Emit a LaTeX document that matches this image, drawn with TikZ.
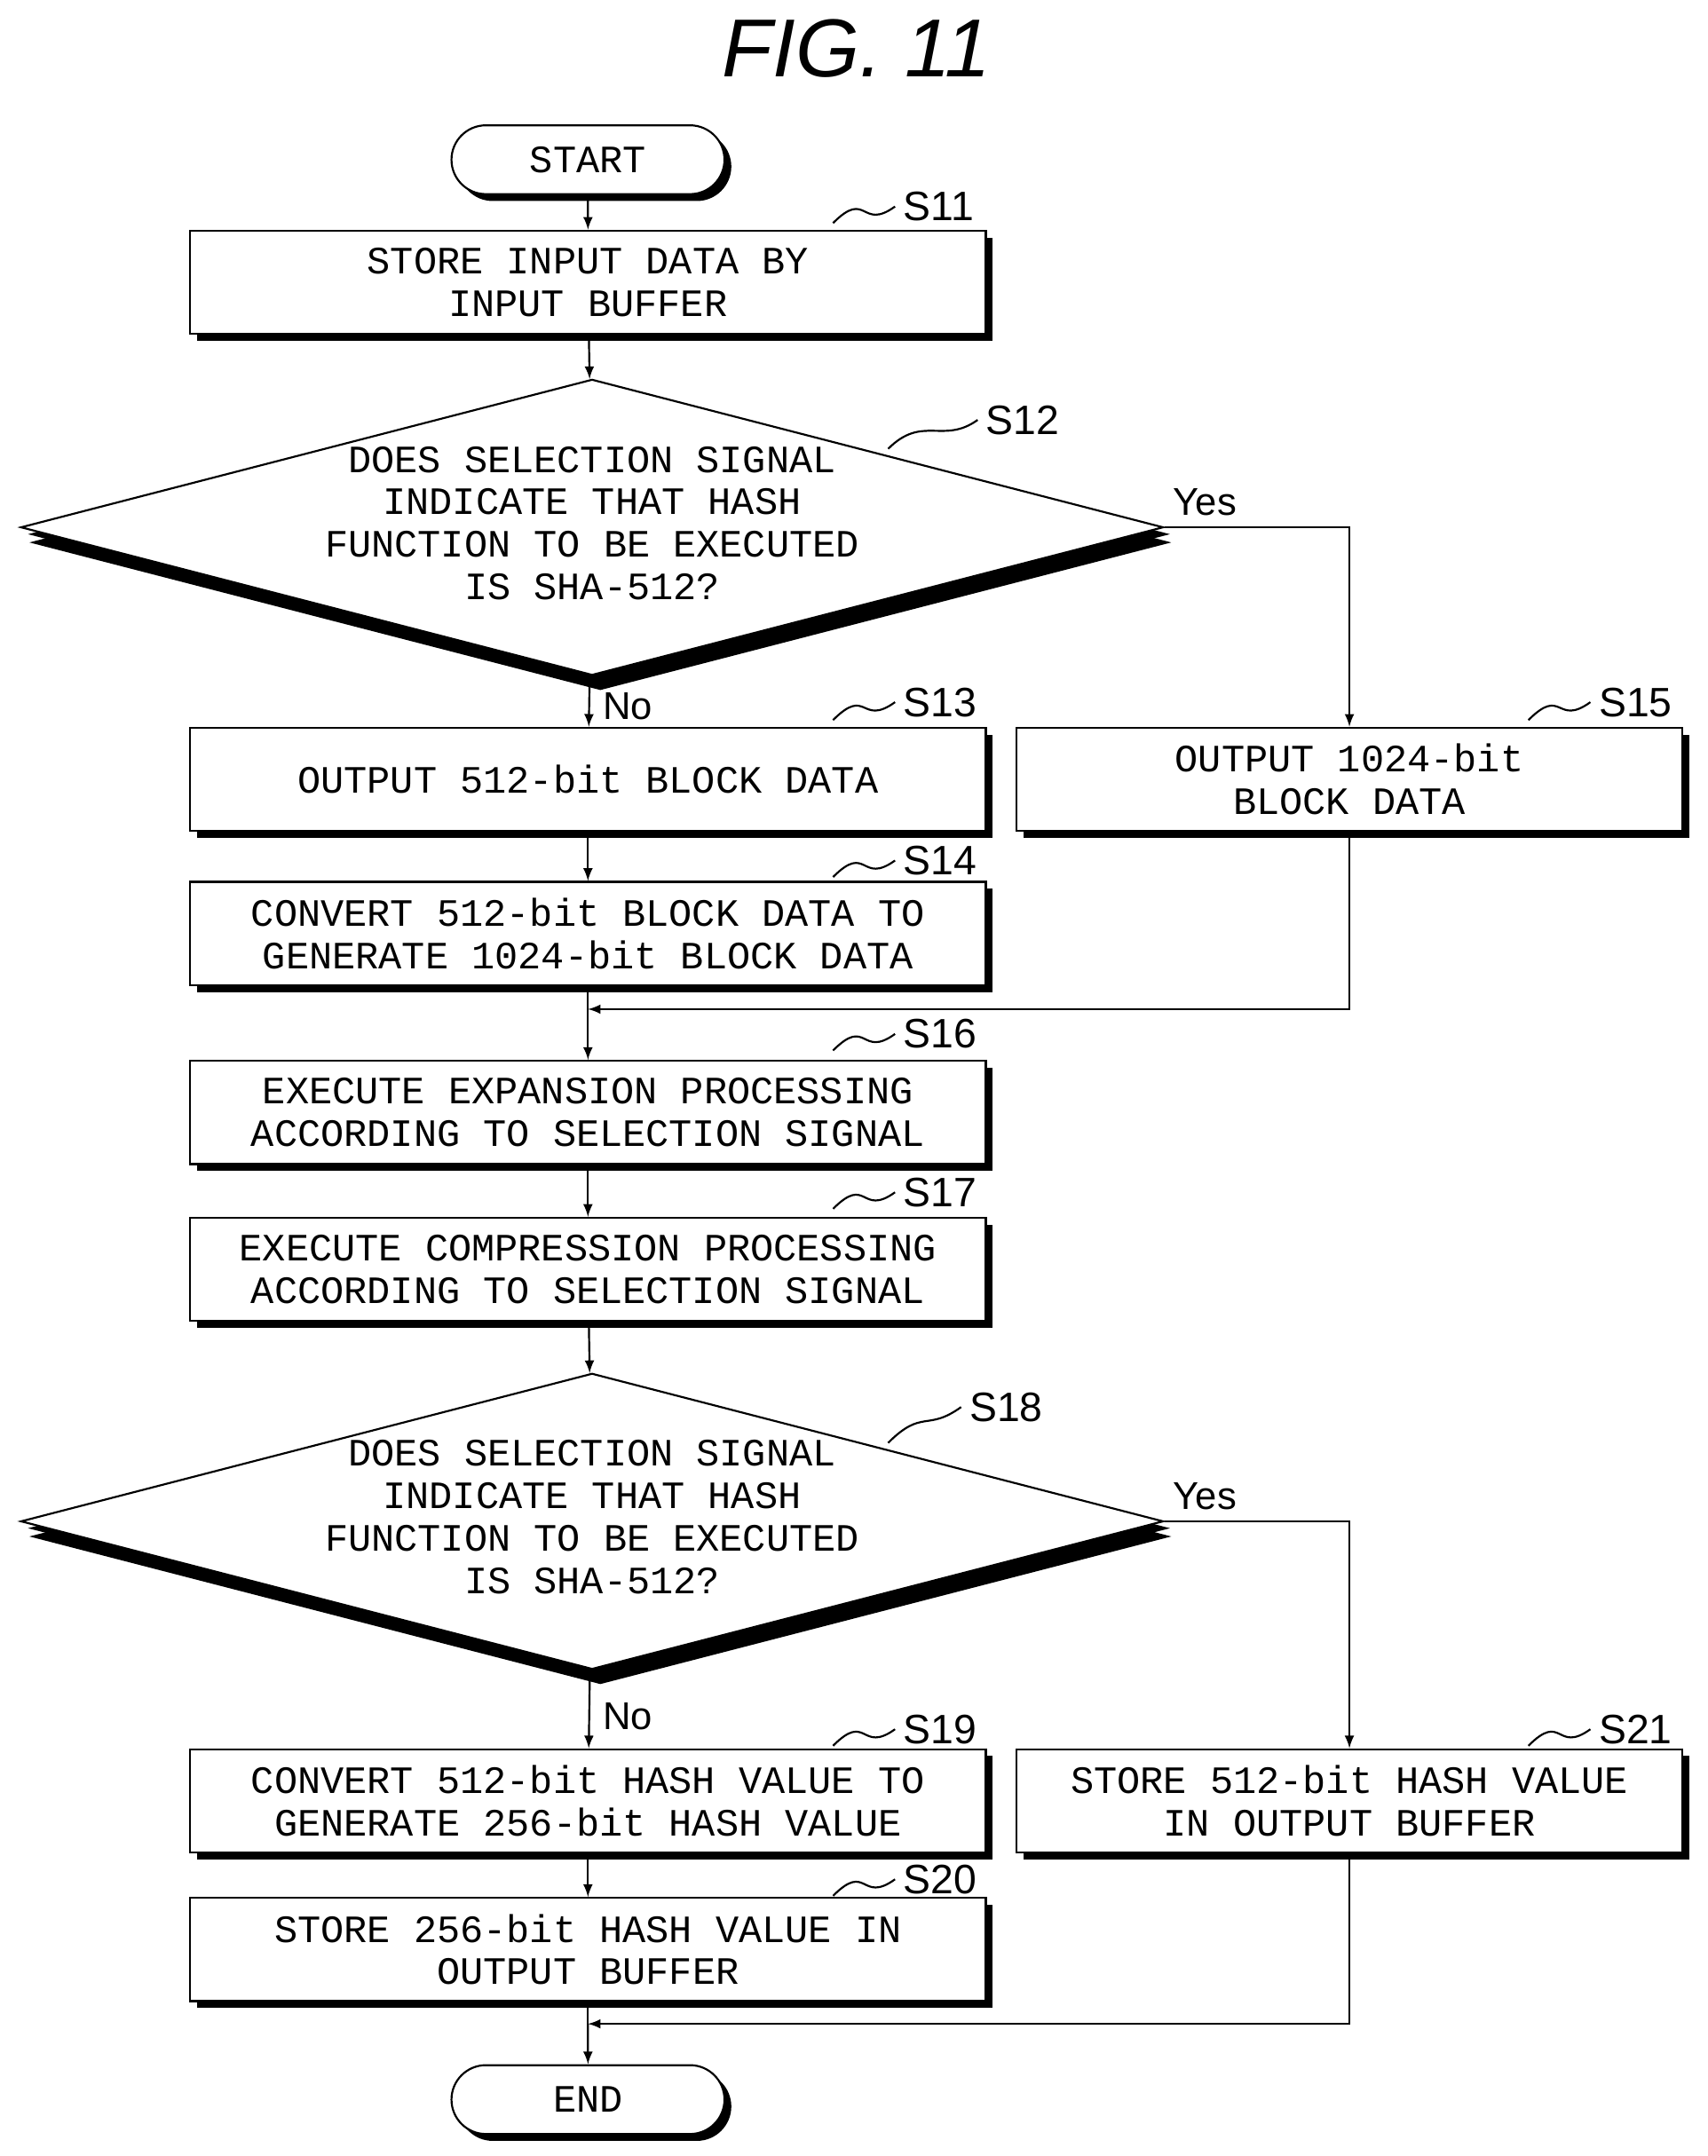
\documentclass[tikz,border=0pt]{standalone}
\usepackage{fontspec}
\setmainfont{Liberation Mono}
\newfontfamily\labfont{Liberation Sans}
\usetikzlibrary{shapes.geometric,shapes.misc,shadows,positioning}

\tikzset{
  flow/.style={draw, thick, fill=white, align=center,
    font=\fontsize{16}{17.5}\selectfont,
    drop shadow={shadow xshift=.1cm, shadow yshift=-.1cm, fill=black, opacity=1}},
  proc/.style={flow, minimum width=11.56cm, minimum height=1.5cm, inner sep=0pt},
  side/.style={flow, minimum width=9.68cm, minimum height=1.5cm, inner sep=0pt},
  term/.style={flow, rounded rectangle, minimum width=4.2cm, minimum height=1cm},
  decision/.style={flow, diamond, minimum width=16.6cm, minimum height=4.3cm, inner sep=0pt,
    drop shadow={shadow xshift=.12cm, shadow yshift=-.22cm, fill=black, opacity=1}},
  arr/.style={->, >=latex, thick},
  yn/.style={font=\labfont\fontsize{16}{16}\selectfont},
}
\newcommand{\steplab}[3]{% anchor point, label point, text
  \draw[thick] (#1) .. controls +(25,-25) and +(-25,18) .. (#2);
  \node[font=\labfont\fontsize{17}{17}\selectfont, anchor=west] at (#2) {#3};
}

\begin{document}
\begin{tikzpicture}[x=0.02cm, y=-0.02cm]
\useasboundingbox (0,0) rectangle (1240,1566);

\node[font=\labfont\itshape\fontsize{34}{34}\selectfont] (title) at (622,35) {FIG. 11};

\node[term] (start) at (427,116) {START};
\node[proc] (s11) at (427,205) {STORE INPUT DATA BY\\INPUT BUFFER};
\node[decision, label=center:{\fontsize{16}{17.5}\selectfont\begin{tabular}{c}DOES SELECTION SIGNAL\\INDICATE THAT HASH\\FUNCTION TO BE EXECUTED\\IS SHA-512?\end{tabular}}] (s12) at (430,383) {};
\node[proc] (s13) at (427,566) {OUTPUT 512-bit BLOCK DATA};
\node[side] (s15) at (980,566) {OUTPUT 1024-bit\\BLOCK DATA};
\node[proc] (s14) at (427,678) {CONVERT 512-bit BLOCK DATA TO\\GENERATE 1024-bit BLOCK DATA};
\node[proc] (s16) at (427,808) {EXECUTE EXPANSION PROCESSING\\ACCORDING TO SELECTION SIGNAL};
\node[proc] (s17) at (427,922) {EXECUTE COMPRESSION PROCESSING\\ACCORDING TO SELECTION SIGNAL};
\node[decision, label=center:{\fontsize{16}{17.5}\selectfont\begin{tabular}{c}DOES SELECTION SIGNAL\\INDICATE THAT HASH\\FUNCTION TO BE EXECUTED\\IS SHA-512?\end{tabular}}] (s18) at (430,1105) {};
\node[proc] (s19) at (427,1308) {CONVERT 512-bit HASH VALUE TO\\GENERATE 256-bit HASH VALUE};
\node[side] (s21) at (980,1308) {STORE 512-bit HASH VALUE\\IN OUTPUT BUFFER};
\node[proc] (s20) at (427,1416) {STORE 256-bit HASH VALUE IN\\OUTPUT BUFFER};
\node[term] (end) at (427,1525) {END};

\coordinate (m1) at (427,733);
\coordinate (m2) at (427,1470);

\draw[arr] (start) -- (s11);
\draw[arr] (s11) -- (s12);
\draw[arr] (s12) -- node[yn, right=2pt, pos=.6] {No} (s13);
\draw[arr] (s12.east) -- node[yn, above right=1pt and 0pt, pos=0] {Yes} (s12.east -| s15) -- (s15);
\draw[arr] (s13) -- (s14);
\draw[thick] (s14) -- (m1);
\draw[arr] (s15) |- (m1);
\draw[arr] (m1) -- (s16);
\draw[arr] (s16) -- (s17);
\draw[arr] (s17) -- (s18);
\draw[arr] (s18) -- node[yn, right=2pt, pos=.6] {No} (s19);
\draw[arr] (s18.east) -- node[yn, above right=1pt and 0pt, pos=0] {Yes} (s18.east -| s21) -- (s21);
\draw[arr] (s19) -- (s20);
\draw[thick] (s20) -- (m2);
\draw[arr] (s21) |- (m2);
\draw[arr] (m2) -- (end);

% step labels
\steplab{605,162}{650,150}{S11}
\steplab{645,326}{710,305}{S12}
\steplab{605,523}{650,510}{S13}
\steplab{1110,523}{1155,510}{S15}
\steplab{605,637}{650,625}{S14}
\steplab{605,763}{650,751}{S16}
\steplab{605,878}{650,866}{S17}
\steplab{645,1048}{698,1022}{S18}
\steplab{605,1268}{650,1256}{S19}
\steplab{1110,1268}{1155,1256}{S21}
\steplab{605,1377}{650,1365}{S20}
\end{tikzpicture}
\end{document}
